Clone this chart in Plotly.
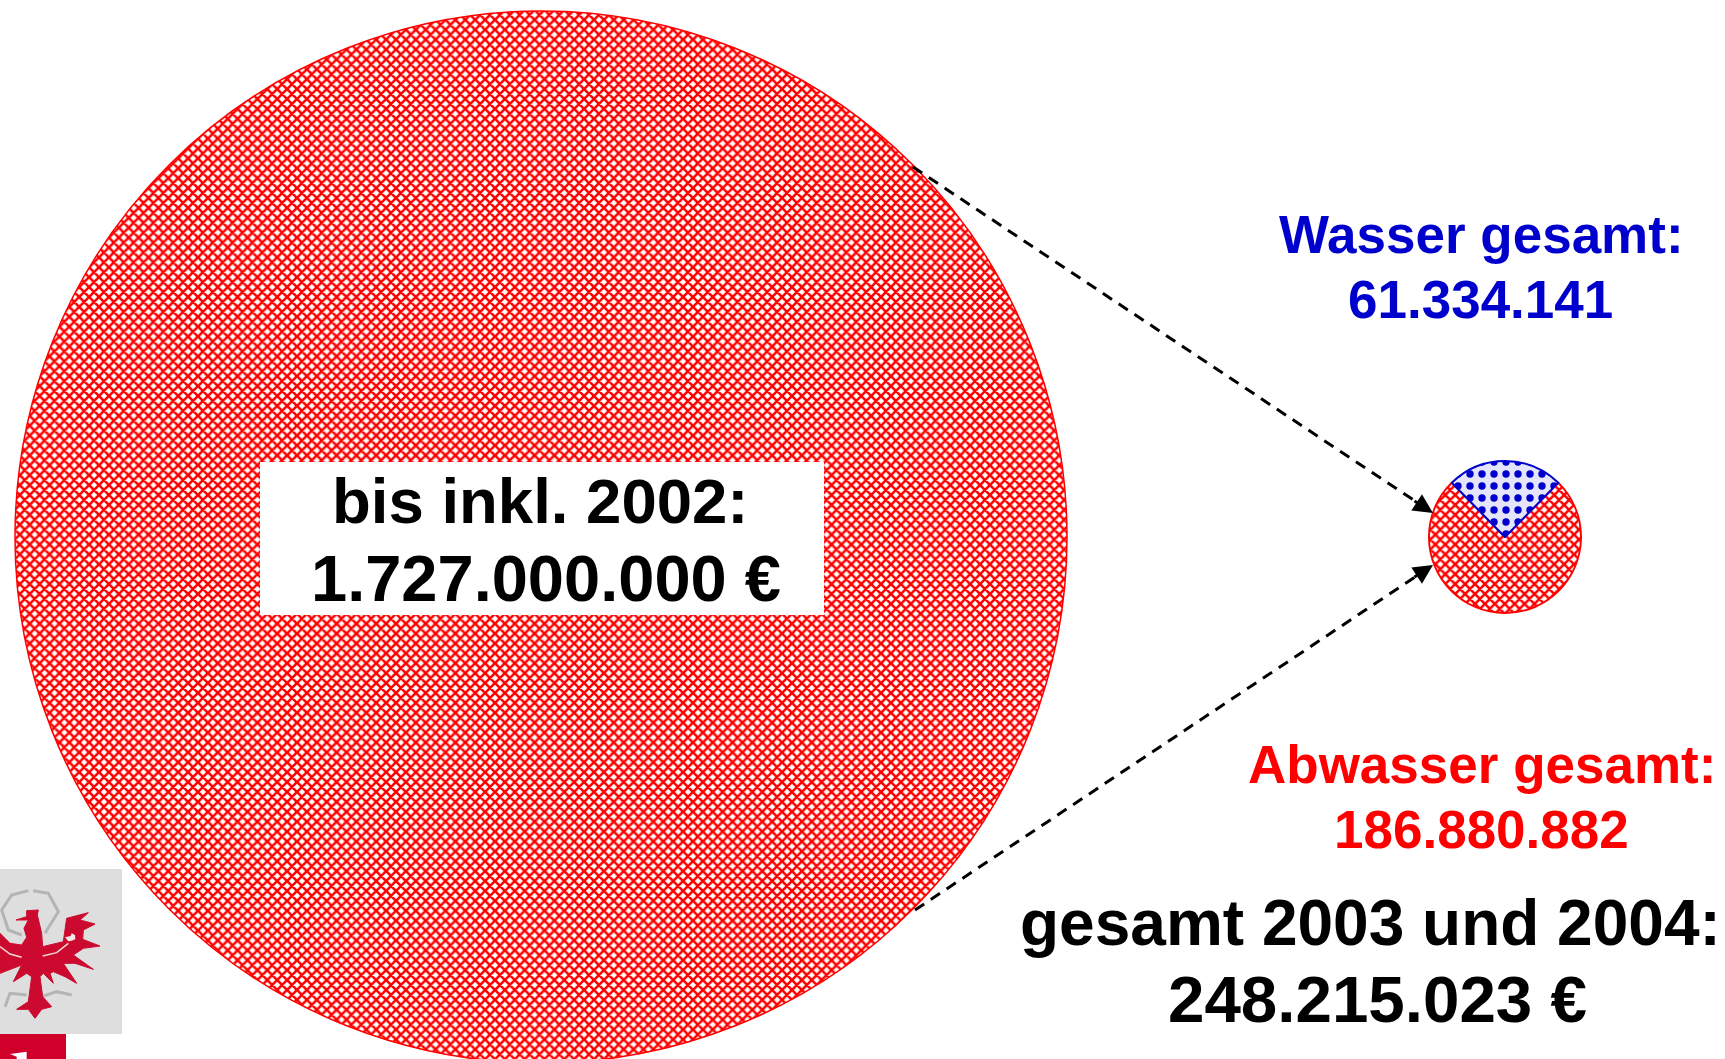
import plotly.graph_objects as go

W, H = 1725, 1080
FONT = "Liberation Sans, Arial, sans-serif"

history_label = ["bis inkl. 2002"]
history_values = [1727000000]
recent_labels = ["Abwasser gesamt", "Wasser gesamt"]
recent_values = [186880882, 61334141]

RED, BLUE, BLACK = "#ff0000", "#0000cc", "#000000"
text_lines = [
    ("Wasser gesamt:", 1481, 235, 53, BLUE),
    ("61.334.141", 1480, 299, 53, BLUE),
    ("Abwasser gesamt:", 1482, 764, 53, RED),
    ("186.880.882", 1481, 829, 53, RED),
    ("gesamt 2003 und 2004:", 1370, 923, 64, BLACK),
    ("248.215.023 €", 1377, 999, 65.5, BLACK),
    ("bis inkl. 2002:", 540, 501, 63.5, BLACK),
    ("1.727.000.000 €", 546, 578, 65, BLACK),
]


def px(x):
    return x / W


def py(y):
    return 1 - y / H


def pie_domain(cx, cy, r):
    return dict(x=[px(cx - r), px(cx + r)], y=[py(cy + r), py(cy - r)])


def logo_path(points):
    # points are in 3x-zoomed logo units with origin (0, 850)
    segs = [f"{px(a / 3):.5f},{py(850 + b / 3):.5f}" for a, b in points]
    return "M" + " L".join(segs) + " Z"


def logo_line(points):
    segs = [f"{px(a / 3):.5f},{py(850 + b / 3):.5f}" for a, b in points]
    return "M" + " L".join(segs)


eagle = [(80, 182), (115, 180), (112, 195), (125, 250), (128, 290), (190, 275), (200, 205), (265, 188),
         (240, 210), (285, 222), (250, 240), (248, 268), (300, 288), (250, 295), (220, 315), (280, 358),
         (225, 340), (190, 340), (230, 400), (195, 380), (160, 365), (150, 370), (160, 400), (130, 370),
         (120, 380), (128, 440), (155, 470), (125, 478), (105, 505), (85, 478), (50, 478), (85, 455),
         (95, 380), (80, 370), (40, 395), (65, 345), (0, 370), (0, 250), (30, 280), (65, 285), (80, 262),
         (72, 235), (85, 210), (48, 210), (80, 200)]
wing_band_r = [(128, 318), (170, 308), (205, 280)]
wing_band_l = [(0, 290), (30, 312), (65, 322)]
cross = [(195, 262), (212, 258), (215, 250), (225, 255), (226, 268), (215, 272), (205, 274)]
laurel_r = [(100, 122), (145, 130), (175, 185), (150, 225), (135, 250)]
laurel_l = [(85, 122), (35, 135), (5, 180), (25, 240), (65, 255)]
twig_r = [(125, 440), (170, 425), (215, 435)]
twig_l = [(80, 435), (30, 430), (15, 470)]

fig = go.Figure()
fig.add_trace(go.Pie(
    labels=history_label, values=history_values, domain=pie_domain(541, 537, 526),
    textinfo="none", sort=False, showlegend=False, hoverinfo="label+value",
    marker=dict(colors=[RED], line=dict(color=RED, width=1.5),
                pattern=dict(shape="x", fgcolor=RED, bgcolor="#ffffff", size=7, solidity=0.6)),
))
fig.add_trace(go.Pie(
    labels=recent_labels, values=recent_values, domain=pie_domain(1505, 537, 76),
    textinfo="none", sort=False, direction="clockwise", rotation=44.5, showlegend=False,
    hoverinfo="label+value",
    marker=dict(colors=[RED, BLUE], line=dict(color=[RED, BLUE], width=2),
                pattern=dict(shape=["x", "."], fgcolor=[RED, BLUE], bgcolor=["#ffffff", "#e4e4fa"],
                             size=[7, 12], solidity=[0.6, 0.3])),
))

shapes = [
    dict(type="rect", xref="paper", yref="paper", x0=px(260), x1=px(824), y0=py(615), y1=py(462),
         fillcolor="#ffffff", line=dict(width=0), layer="above"),
    dict(type="line", xref="paper", yref="paper", x0=px(913), y0=py(167), x1=px(1415), y1=py(501),
         line=dict(color=BLACK, width=3, dash="11px,8px"), layer="above"),
    dict(type="line", xref="paper", yref="paper", x0=px(915), y0=py(910), x1=px(1415), y1=py(577),
         line=dict(color=BLACK, width=3, dash="11px,8px"), layer="above"),
    dict(type="rect", xref="paper", yref="paper", x0=0, x1=px(122), y0=py(1034), y1=py(869),
         fillcolor="#dedede", line=dict(width=0), layer="above"),
    dict(type="rect", xref="paper", yref="paper", x0=0, x1=px(66), y0=py(1070), y1=py(1034),
         fillcolor="#d0002a", line=dict(width=0), layer="above"),
    dict(type="path", xref="paper", yref="paper",
         path=logo_path([(30, 612), (80, 605), (80, 627), (50, 627), (50, 620)]),
         fillcolor="#ffffff", line=dict(width=0), layer="above"),
]
for pts in (laurel_r, laurel_l, twig_r, twig_l):
    shapes.append(dict(type="path", xref="paper", yref="paper", path=logo_line(pts),
                       line=dict(color="#b4b4b4", width=3), layer="above"))
shapes.append(dict(type="path", xref="paper", yref="paper", path=logo_path(eagle),
                   fillcolor="#cc0a2f", line=dict(color="#cc0a2f", width=1), layer="above"))
for pts in (wing_band_r, wing_band_l):
    shapes.append(dict(type="path", xref="paper", yref="paper", path=logo_line(pts),
                       line=dict(color="#f2d8d8", width=1.5), layer="above"))
shapes.append(dict(type="path", xref="paper", yref="paper", path=logo_path(cross),
                   fillcolor="#f4e8e8", line=dict(width=0), layer="above"))

annotations = []
for text, x, y, size, color in text_lines:
    annotations.append(dict(text=f"<b>{text}</b>", xref="paper", yref="paper", x=px(x), y=py(y),
                            xanchor="center", yanchor="middle", showarrow=False,
                            font=dict(family=FONT, size=size, color=color)))
for tip, tail in (((1433, 513), (1413, 500)), ((1433, 565), (1413, 578))):
    annotations.append(dict(text="", xref="paper", yref="paper", x=px(tip[0]), y=py(tip[1]),
                            showarrow=True, arrowhead=2, arrowsize=1.3, arrowwidth=3, arrowcolor=BLACK,
                            ax=tail[0] - tip[0], ay=tail[1] - tip[1]))

fig.update_layout(
    width=W, height=H, margin=dict(l=0, r=0, t=0, b=0, pad=0),
    paper_bgcolor="#ffffff", plot_bgcolor="#ffffff", showlegend=False,
    font=dict(family=FONT), shapes=shapes, annotations=annotations,
)

fig.write_html(
    "out.html",
    config=dict(displayModeBar=False),
    post_script="document.documentElement.style.overflow='hidden';"
                "document.body.style.overflow='hidden';document.body.style.margin='0';",
)
